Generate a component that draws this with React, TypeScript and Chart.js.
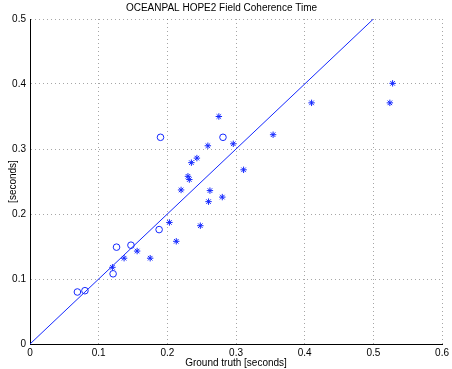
import React, { useEffect, useRef } from "react";
import { Chart, registerables } from "chart.js";

Chart.register(...registerables);

const chartTitle = "OCEANPAL HOPE2 Field Coherence Time";
const xAxisTitle = "Ground truth [seconds]";
const yAxisTitle = "[seconds]";

const circleX = [0.069, 0.08, 0.121, 0.126, 0.147, 0.188, 0.19, 0.281];
const circleY = [0.08, 0.082, 0.108, 0.149, 0.152, 0.176, 0.318, 0.318];

const starX = [0.12, 0.137, 0.156, 0.175, 0.213, 0.203, 0.248, 0.22, 0.26, 0.28, 0.262, 0.23, 0.232, 0.235, 0.243, 0.259, 0.296, 0.311, 0.275, 0.354, 0.41, 0.524, 0.528];
const starY = [0.118, 0.132, 0.143, 0.132, 0.158, 0.187, 0.182, 0.237, 0.219, 0.226, 0.236, 0.258, 0.253, 0.279, 0.286, 0.305, 0.308, 0.268, 0.35, 0.322, 0.371, 0.371, 0.401];

const lineX = [0, 0.5];
const lineY = [0, 0.5];

const BLUE = "rgb(20,40,255)";
const FONT = "'Liberation Sans', Arial, sans-serif";

export default function App() {
  const ref = useRef<HTMLCanvasElement>(null);
  useEffect(() => {
    if (!ref.current) return;
    const zip = (xs: number[], ys: number[]) => xs.map((x, i) => ({ x, y: ys[i] }));
    const chart = new Chart(ref.current, {
      type: "scatter",
      data: {
        datasets: [
          {
            type: "line",
            data: zip(lineX, lineY),
            borderColor: BLUE,
            borderWidth: 1,
            pointRadius: 0,
            showLine: true,
            fill: false,
          } as any,
          {
            data: zip(circleX, circleY),
            pointStyle: "circle",
            pointRadius: 3.3,
            borderColor: BLUE,
            backgroundColor: "rgba(0,0,0,0)",
            borderWidth: 1,
          },
          {
            data: zip(starX, starY),
            pointStyle: "star",
            pointRadius: 3.2,
            borderColor: BLUE,
            backgroundColor: BLUE,
            borderWidth: 1,
          },
        ],
      },
      options: {
        animation: false,
        responsive: false,
        maintainAspectRatio: false,
        layout: { padding: { left: 0, right: 9, top: 0, bottom: 0 } },
        plugins: {
          legend: { display: false },
          tooltip: { enabled: false },
          title: {
            display: true,
            text: chartTitle,
            color: "#000",
            font: { family: FONT, size: 10, weight: "normal" },
            padding: { top: 2, bottom: 5 },
          },
        },
        scales: {
          x: {
            type: "linear",
            min: 0,
            max: 0.6,
            afterFit: (s: any) => {
              s.height = 25;
            },
            ticks: {
              stepSize: 0.1,
              color: "#000",
              padding: 3,
              maxRotation: 0,
              font: { family: FONT, size: 10 },
              callback: (v: any) => String(Math.round(Number(v) * 10) / 10),
            },
            grid: {
              color: "rgba(0,0,0,0.35)",
              drawTicks: false,
              lineWidth: 1,
            },
            border: { display: true, color: "#000", width: 1, dash: [1, 3] },
            title: {
              display: true,
              text: xAxisTitle,
              color: "#000",
              font: { family: FONT, size: 10 },
              padding: { top: 0, bottom: 0 },
            },
          },
          y: {
            type: "linear",
            min: 0,
            max: 0.5,
            afterFit: (s: any) => {
              s.width = 30;
            },
            ticks: {
              stepSize: 0.1,
              color: "#000",
              padding: 4,
              font: { family: FONT, size: 10 },
              callback: (v: any) => String(Math.round(Number(v) * 10) / 10),
            },
            grid: {
              color: "rgba(0,0,0,0.35)",
              drawTicks: false,
              lineWidth: 1,
            },
            border: { display: true, color: "#000", width: 1, dash: [1, 3] },
            title: {
              display: true,
              text: yAxisTitle,
              color: "#000",
              font: { family: FONT, size: 10 },
              padding: { top: 7, bottom: 0 },
            },
          },
        },
      },
    } as any);
    return () => chart.destroy();
  }, []);
  return (
    <div style={{ position: "fixed", left: 0, top: 0, width: 452, height: 369, background: "#fff" }}>
      <canvas ref={ref} width={452} height={369} style={{ width: 452, height: 369, display: "block" }} />
    </div>
  );
}
